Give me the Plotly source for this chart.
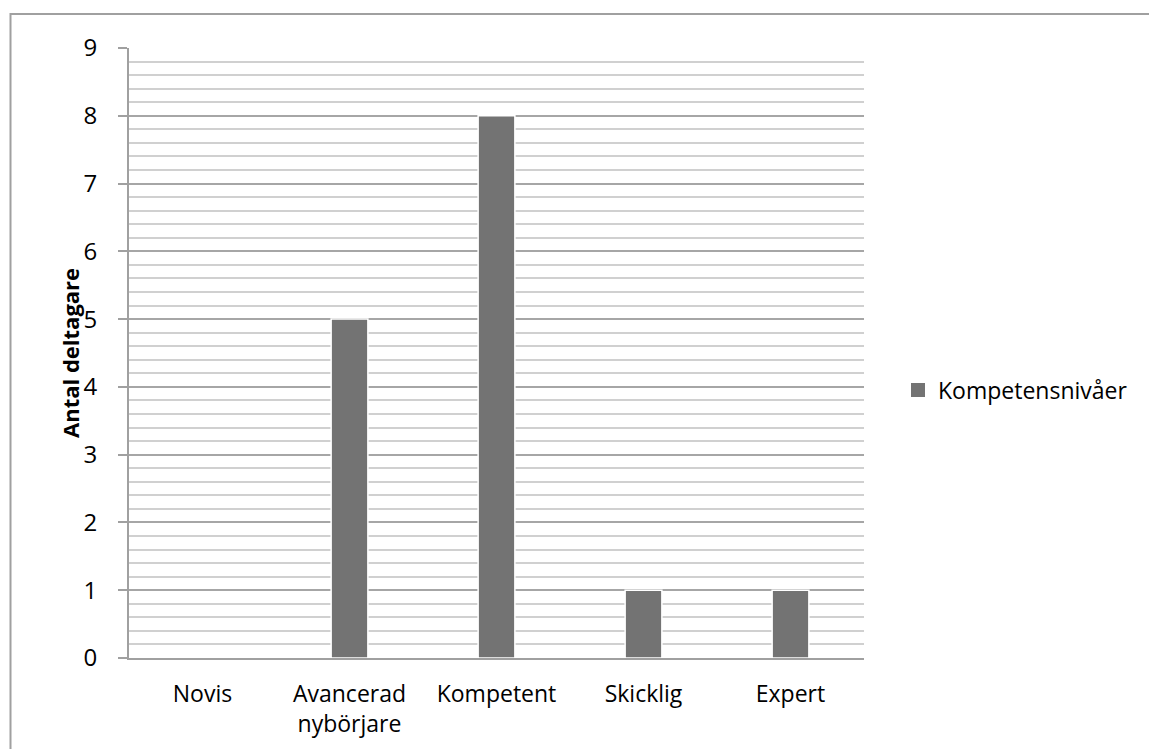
import plotly.graph_objects as go

categories = ["Novis", "Avancerad<br>nybörjare", "Kompetent", "Skicklig", "Expert"]
participants = [0, 5, 8, 1, 1]
series_name = "Kompetensnivåer"
y_title = "Antal deltagare"
bar_color = "#737373"

W, H = 1149, 749
M_L, M_R, M_T, M_B = 129, 285, 48, 91
plot_w = W - M_L - M_R
plot_h = H - M_T - M_B


def px_x(px):
    return (px - M_L) / plot_w


def px_y(py):
    return (H - M_B - py) / plot_h


fig = go.Figure()
fig.add_trace(go.Bar(
    x=categories,
    y=participants,
    name=series_name,
    legendgroup="levels",
    width=0.25,
    marker=dict(color=bar_color, line=dict(color="#ffffff", width=1.5)),
    showlegend=False,
))
# legend entry with a larger square swatch
fig.add_trace(go.Scatter(
    x=[None], y=[None],
    mode="markers",
    name=series_name,
    legendgroup="levels",
    marker=dict(symbol="square", size=14, color=bar_color),
    showlegend=True,
))

font_family = "Open Sans, Noto Sans, sans-serif"

fig.update_layout(
    width=W, height=H,
    margin=dict(l=M_L, r=M_R, t=M_T, b=M_B, pad=0, autoexpand=False),
    paper_bgcolor="white",
    plot_bgcolor="white",
    font=dict(family=font_family, size=23, color="#000000"),
    showlegend=True,
    legend=dict(
        x=px_x(898), y=px_y(390), xanchor="left", yanchor="middle",
        font=dict(size=23), bgcolor="rgba(0,0,0,0)",
        itemwidth=30,
    ),
    xaxis=dict(
        range=[-0.5, 4.5],
        automargin=False,
        showgrid=False,
        showline=True, linecolor="#a0a0a0", linewidth=2,
        ticks="", ticklabelstandoff=14,
        tickfont=dict(size=23),
    ),
    yaxis=dict(
        range=[0, 9], dtick=1,
        automargin=False,
        showgrid=True, gridcolor="#a6a6a6", gridwidth=1.5,
        minor=dict(dtick=0.2, showgrid=True, gridcolor="#d0d0d0", gridwidth=1.5),
        showline=True, linecolor="#a0a0a0", linewidth=2,
        ticks="outside", ticklen=9, tickcolor="#a0a0a0", tickwidth=2,
        ticklabelstandoff=16,
        tickfont=dict(size=24),
        zeroline=False,
    ),
    annotations=[
        dict(
            text=f"<b>{y_title}</b>", textangle=-90,
            xref="paper", yref="paper", x=px_x(70), y=px_y(353),
            xanchor="center", yanchor="middle", showarrow=False,
            font=dict(size=22),
        )
    ],
    shapes=[
        dict(
            type="rect", xref="paper", yref="paper",
            x0=px_x(10.5), y0=px_y(780), x1=px_x(1180), y1=px_y(14),
            line=dict(color="#a0a0a0", width=2), fillcolor="rgba(0,0,0,0)",
            layer="below",
        )
    ],
)

fig.write_html("out.html")
